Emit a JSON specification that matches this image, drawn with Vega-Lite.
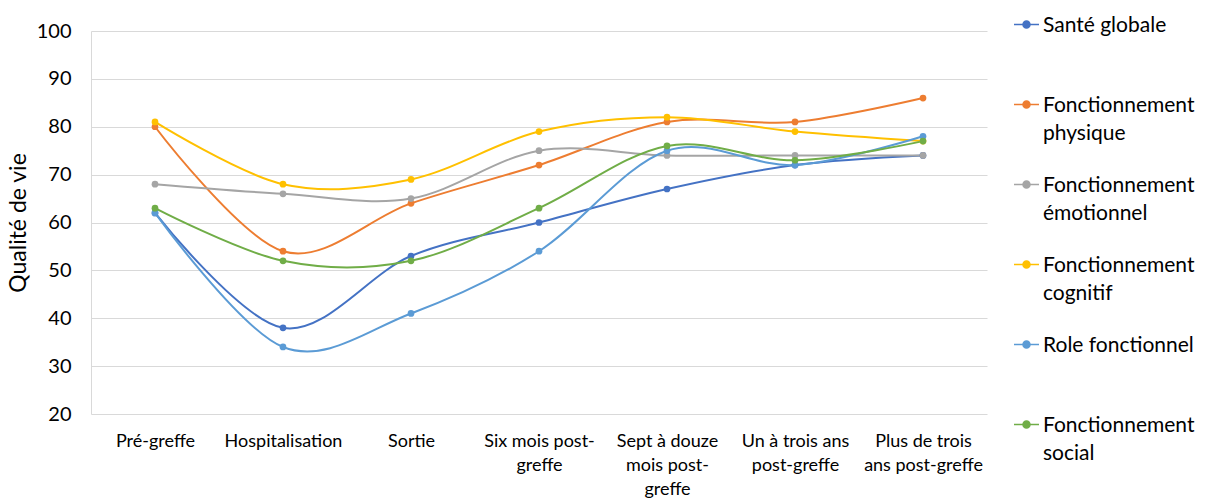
{
  "$schema": "https://vega.github.io/schema/vega-lite/v6.json",
  "width": 896,
  "height": 383,
  "autosize": "none",
  "padding": {"left": 91, "top": 31, "right": 219, "bottom": 85},
  "background": "white",
  "config": {
    "view": {"stroke": null},
    "font": "Lato",
    "axis": {"labelFont": "Lato", "titleFont": "Lato", "labelColor": "#000000", "titleColor": "#000000", "titleFontWeight": "normal"},
    "legend": {"labelFont": "Lato", "labelColor": "#000000"}
  },
  "data": {
    "values": [
      {"t": "Pré-greffe", "s": "Santé globale", "v": 62},
      {"t": "Hospitalisation", "s": "Santé globale", "v": 38},
      {"t": "Sortie", "s": "Santé globale", "v": 53},
      {"t": "Six mois post-greffe", "s": "Santé globale", "v": 60},
      {"t": "Sept à douze mois post-greffe", "s": "Santé globale", "v": 67},
      {"t": "Un à trois ans post-greffe", "s": "Santé globale", "v": 72},
      {"t": "Plus de trois ans post-greffe", "s": "Santé globale", "v": 74},
      {"t": "Pré-greffe", "s": "Fonctionnement physique", "v": 80},
      {"t": "Hospitalisation", "s": "Fonctionnement physique", "v": 54},
      {"t": "Sortie", "s": "Fonctionnement physique", "v": 64},
      {"t": "Six mois post-greffe", "s": "Fonctionnement physique", "v": 72},
      {"t": "Sept à douze mois post-greffe", "s": "Fonctionnement physique", "v": 81},
      {"t": "Un à trois ans post-greffe", "s": "Fonctionnement physique", "v": 81},
      {"t": "Plus de trois ans post-greffe", "s": "Fonctionnement physique", "v": 86},
      {"t": "Pré-greffe", "s": "Fonctionnement émotionnel", "v": 68},
      {"t": "Hospitalisation", "s": "Fonctionnement émotionnel", "v": 66},
      {"t": "Sortie", "s": "Fonctionnement émotionnel", "v": 65},
      {"t": "Six mois post-greffe", "s": "Fonctionnement émotionnel", "v": 75},
      {"t": "Sept à douze mois post-greffe", "s": "Fonctionnement émotionnel", "v": 74},
      {"t": "Un à trois ans post-greffe", "s": "Fonctionnement émotionnel", "v": 74},
      {"t": "Plus de trois ans post-greffe", "s": "Fonctionnement émotionnel", "v": 74},
      {"t": "Pré-greffe", "s": "Fonctionnement cognitif", "v": 81},
      {"t": "Hospitalisation", "s": "Fonctionnement cognitif", "v": 68},
      {"t": "Sortie", "s": "Fonctionnement cognitif", "v": 69},
      {"t": "Six mois post-greffe", "s": "Fonctionnement cognitif", "v": 79},
      {"t": "Sept à douze mois post-greffe", "s": "Fonctionnement cognitif", "v": 82},
      {"t": "Un à trois ans post-greffe", "s": "Fonctionnement cognitif", "v": 79},
      {"t": "Plus de trois ans post-greffe", "s": "Fonctionnement cognitif", "v": 77},
      {"t": "Pré-greffe", "s": "Role fonctionnel", "v": 62},
      {"t": "Hospitalisation", "s": "Role fonctionnel", "v": 34},
      {"t": "Sortie", "s": "Role fonctionnel", "v": 41},
      {"t": "Six mois post-greffe", "s": "Role fonctionnel", "v": 54},
      {"t": "Sept à douze mois post-greffe", "s": "Role fonctionnel", "v": 75},
      {"t": "Un à trois ans post-greffe", "s": "Role fonctionnel", "v": 72},
      {"t": "Plus de trois ans post-greffe", "s": "Role fonctionnel", "v": 78},
      {"t": "Pré-greffe", "s": "Fonctionnement social", "v": 63},
      {"t": "Hospitalisation", "s": "Fonctionnement social", "v": 52},
      {"t": "Sortie", "s": "Fonctionnement social", "v": 52},
      {"t": "Six mois post-greffe", "s": "Fonctionnement social", "v": 63},
      {"t": "Sept à douze mois post-greffe", "s": "Fonctionnement social", "v": 76},
      {"t": "Un à trois ans post-greffe", "s": "Fonctionnement social", "v": 73},
      {"t": "Plus de trois ans post-greffe", "s": "Fonctionnement social", "v": 77}
    ]
  },
  "mark": {"type": "line", "interpolate": "cardinal", "strokeWidth": 2, "point": {"filled": true, "size": 45, "opacity": 1}},
  "encoding": {
    "x": {
      "field": "t",
      "type": "nominal",
      "sort": null,
      "scale": {"type": "point", "padding": 0.5},
      "axis": {
        "title": null,
        "labelAngle": 0,
        "labelFontSize": 18,
        "labelLineHeight": 24,
        "labelPadding": 18,
        "labelBaseline": "top",
        "labelLimit": 200,
        "domain": false,
        "ticks": false,
        "grid": false,
        "labelExpr": "datum.label == 'Six mois post-greffe' ? ['Six mois post-', 'greffe'] : datum.label == 'Sept à douze mois post-greffe' ? ['Sept à douze', 'mois post-', 'greffe'] : datum.label == 'Un à trois ans post-greffe' ? ['Un à trois ans', 'post-greffe'] : datum.label == 'Plus de trois ans post-greffe' ? ['Plus de trois', 'ans post-greffe'] : datum.label"
      }
    },
    "y": {
      "field": "v",
      "type": "quantitative",
      "scale": {"domain": [20, 100], "nice": false, "zero": false},
      "axis": {
        "title": "Qualité de vie",
        "titleFontSize": 23,
        "titlePadding": 6,
        "labelFontSize": 20,
        "labelPadding": 20,
        "values": [20, 30, 40, 50, 60, 70, 80, 90, 100],
        "ticks": false,
        "domain": true,
        "domainColor": "#D9D9D9",
        "domainWidth": 1,
        "grid": true,
        "gridColor": "#D9D9D9",
        "gridWidth": 1
      }
    },
    "color": {
      "field": "s",
      "type": "nominal",
      "scale": {
        "domain": ["Santé globale", "Fonctionnement physique", "Fonctionnement émotionnel", "Fonctionnement cognitif", "Role fonctionnel", "Fonctionnement social"],
        "range": ["#4472C4", "#ED7D31", "#A5A5A5", "#FFC000", "#5B9BD5", "#70AD47"]
      },
      "legend": {
        "title": null,
        "orient": "none",
        "legendX": 922,
        "legendY": -30,
        "padding": 0,
        "labelFontSize": 21,
        "labelBaseline": "top",
        "labelOffset": 3,
        "labelLimit": 300,
        "rowPadding": 17,
        "gridAlign": "all",
        "symbolSize": 625,
        "symbolStrokeWidth": 1.5,
        "symbolType": "M-1,0.8L1,0.8M0.28,0.8A0.28,0.28,0,1,1,-0.28,0.8A0.28,0.28,0,1,1,0.28,0.8Z",
        "labelExpr": "indexof(datum.label, 'Fonctionnement ') == 0 ? ['Fonctionnement', substring(datum.label, 15)] : [datum.label, '']",
        "encode": {
          "labels": {"update": {"lineHeight": {"value": 28}}},
          "symbols": {"update": {"fill": {"scale": "color", "field": "value"}, "stroke": {"scale": "color", "field": "value"}, "strokeWidth": {"value": 1.5}, "opacity": {"value": 1}}}
        }
      }
    }
  }
}
